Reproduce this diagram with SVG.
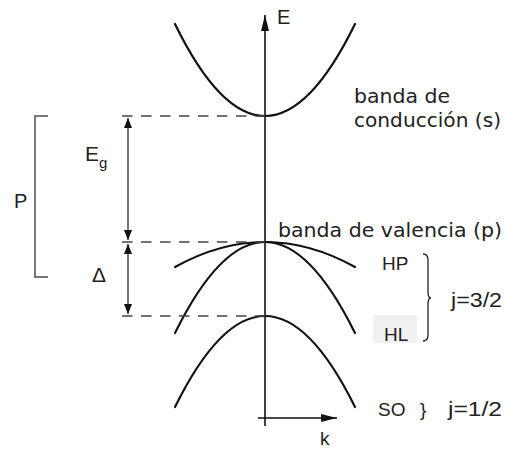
<svg xmlns="http://www.w3.org/2000/svg" width="505" height="452" viewBox="0 0 505 452">
<style>
.band{fill:none;stroke:#111;stroke-width:2.2;stroke-linecap:round}
.dash{stroke:#444;stroke-width:1.5;stroke-dasharray:10.5 8.5;fill:none}
.shaft{stroke:#444;stroke-width:1.5;fill:none}
.axis{stroke:#111;stroke-width:1.6;fill:none}
.t{font-family:"Liberation Sans",Arial,sans-serif;fill:#222}
.d{font-family:"DejaVu Sans",Verdana,sans-serif;fill:#222;font-size:20px}
</style>
<defs>
<marker id="ah" viewBox="0 0 10 8" refX="10" refY="4" markerWidth="10" markerHeight="8" markerUnits="userSpaceOnUse" orient="auto-start-reverse">
<path d="M0,0 L10,4 L0,8 Z" fill="#111"/>
</marker>
<marker id="ax" viewBox="0 0 16 8" refX="16" refY="4" markerWidth="16" markerHeight="8" markerUnits="userSpaceOnUse" orient="auto">
<path d="M0,0 L16,4 L0,8 Z" fill="#111"/>
</marker>
</defs>

<g id="axes">
<line class="axis" x1="265" y1="426" x2="265" y2="15" marker-end="url(#ax)"/>
<line class="axis" x1="258" y1="418" x2="337" y2="418" stroke="#444" marker-end="url(#ax)"/>
<text class="t" x="277" y="24" font-size="20">E</text>
<text class="t" x="320" y="445" font-size="19">k</text>
</g>

<g id="band-conduccion">
<path class="band" d="M175,24 Q265,208 355,24"/>
</g>
<g id="band-HP">
<path class="band" d="M175,267 Q265,217 355,267"/>
</g>
<g id="band-HL">
<path class="band" d="M175,333 Q265,151 355,333"/>
</g>
<g id="band-SO">
<path class="band" d="M175,407 Q265,225 355,407"/>
</g>

<g id="connectors">
<line class="dash" x1="122" y1="116" x2="265" y2="116"/>
<line class="dash" x1="122" y1="242" x2="265" y2="242"/>
<line class="dash" x1="122" y1="316" x2="265" y2="316"/>
<line class="shaft" x1="128" y1="118" x2="128" y2="240" marker-start="url(#ah)" marker-end="url(#ah)"/>
<line class="shaft" x1="128" y1="244" x2="128" y2="314" marker-start="url(#ah)" marker-end="url(#ah)"/>
</g>

<g id="P">
<path d="M48,116 H35 V277 H48" fill="none" stroke="#777" stroke-width="2"/>
<text class="t" x="14" y="208" font-size="20">P</text>
</g>

<g id="Eg">
<text class="t" x="85" y="161" font-size="21">E<tspan font-size="15" dy="7">g</tspan></text>
</g>

<g id="Delta">
<text class="t" x="92" y="282" font-size="21">Δ</text>
</g>

<g id="label-conduccion">
<text class="d" x="354" y="103" textLength="96" lengthAdjust="spacingAndGlyphs">banda de</text>
<text class="d" x="354" y="127" textLength="147" lengthAdjust="spacingAndGlyphs">conducción (s)</text>
</g>

<g id="label-valencia">
<text class="d" x="278" y="237" textLength="224" lengthAdjust="spacingAndGlyphs">banda de valencia (p)</text>
</g>

<g id="label-HP">
<text class="t" x="382" y="270" font-size="19">HP</text>
</g>

<g id="label-HL">
<rect x="373" y="315" width="44" height="28" fill="#f0f0f0"/>
<text class="t" x="384" y="341" font-size="19">HL</text>
</g>

<g id="label-j32">
<path d="M423,254 Q428,254 428,260 V292 Q428,298 431,298 Q428,298 428,304 V335 Q428,341 423,341" fill="none" stroke="#222" stroke-width="1.3"/>
<text class="t" x="451" y="307" font-size="20" textLength="51" lengthAdjust="spacingAndGlyphs">j=3/2</text>
</g>

<g id="label-SO">
<text class="t" x="378" y="416" font-size="19">SO</text>
<text class="t" x="420" y="416" font-size="19">}</text>
<text class="t" x="448" y="416" font-size="20" textLength="54" lengthAdjust="spacingAndGlyphs">j=1/2</text>
</g>
</svg>
